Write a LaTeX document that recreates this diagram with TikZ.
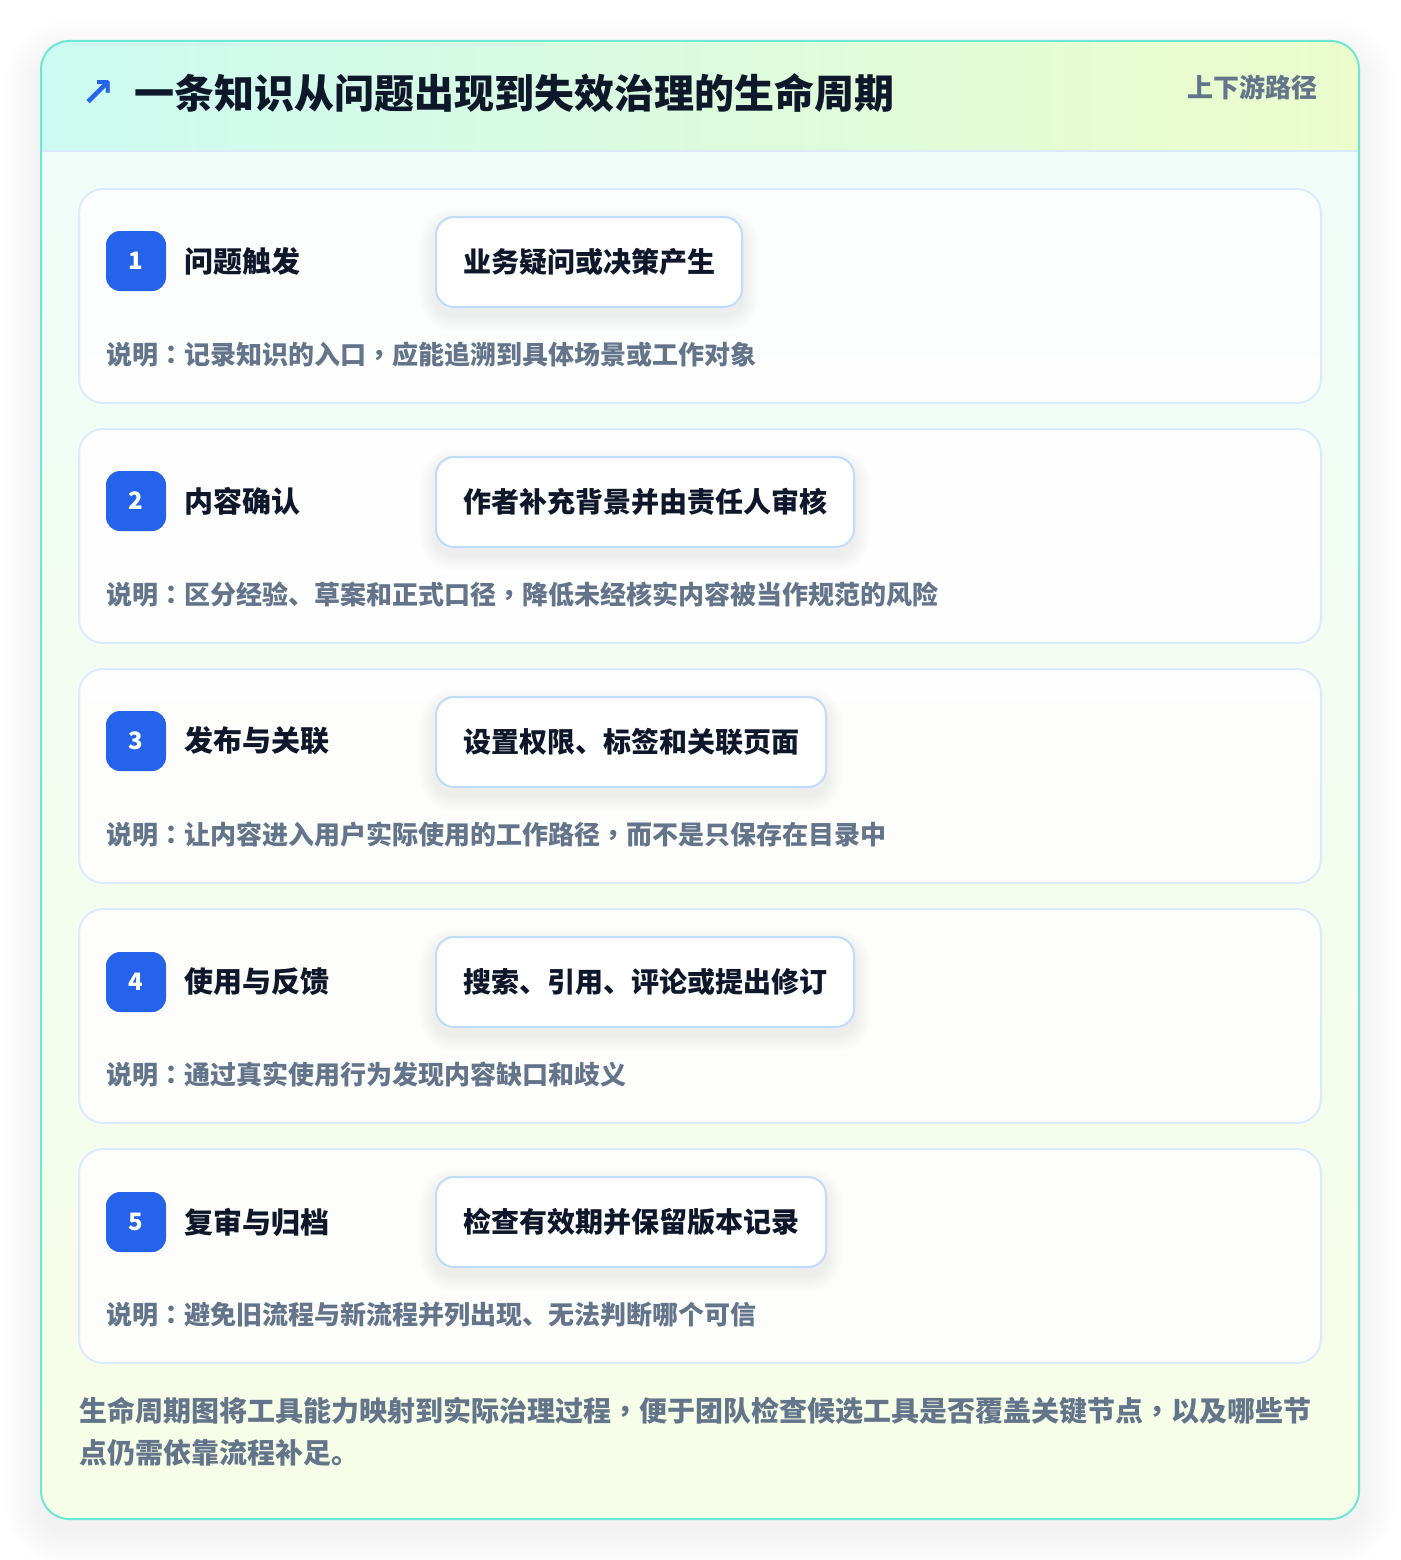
\documentclass[tikz,border=0pt]{standalone}
\usepackage{fontspec}
\setmainfont{Noto Sans CJK SC}
\newfontfamily\tcfont{Noto Sans CJK TC}
\newfontfamily\symfont{DejaVu Sans}

\definecolor{tealline}{HTML}{6EE7D4}
\definecolor{headleft}{HTML}{CCFBF1}
\definecolor{headright}{HTML}{ECFCCB}
\definecolor{bodytop}{HTML}{F0FDFA}
\definecolor{bodybottom}{HTML}{F7FEE7}
\definecolor{cardline}{HTML}{DBEAFE}
\definecolor{actionline}{HTML}{BFDBFE}
\definecolor{badgeblue}{HTML}{2563EB}
\definecolor{ink}{HTML}{0F172A}
\definecolor{slate}{HTML}{64748B}

% centred full-width punctuation
\newcommand{\cn}{{\tcfont ：}}
\newcommand{\cm}{{\tcfont ，}}

\pgfdeclarelayer{cards}
\pgfdeclarelayer{shadow}
\pgfsetlayers{cards,shadow,main}

% soft shadow under an action box
\newcommand{\boxshadow}[1]{%
  \begin{pgfonlayer}{shadow}
    \foreach \s in {1,3,...,15}
      \fill[black, opacity=0.007, rounded corners=18pt+\s pt]
        ([xshift=-\s pt, yshift=\s pt-8pt]#1.north west) rectangle ([xshift=\s pt, yshift=-\s pt-8pt]#1.south east);
  \end{pgfonlayer}}

\tikzset{
  stepcard/.style={draw=cardline, line width=2, rounded corners=24, fill=white, fill opacity=0.85},
  badge/.style={fill=badgeblue, rounded corners=14, minimum size=60, inner sep=0,
    text=white, font=\bfseries\fontsize{24}{28}\selectfont},
  steptitle/.style={anchor=west, inner sep=0, text=ink, font=\bfseries\fontsize{29}{34}\selectfont},
  actionbox/.style={anchor=west, draw=actionline, line width=2, rounded corners=18, fill=white,
    minimum height=90, inner xsep=27, text=ink, font=\bfseries\fontsize{28}{34}\selectfont},
  note/.style={anchor=west, inner sep=0, text=slate, font=\bfseries\fontsize{26}{32}\selectfont},
}

\begin{document}
\begin{tikzpicture}[x=1pt,y=-1pt]
  \useasboundingbox (0,0) rectangle (1400,1560);
  \begin{pgfonlayer}{cards}
    \fill[white] (0,0) rectangle (1400,1560);
    % outer card with its shadow
    \foreach \s in {2,5,...,38}
      \fill[black, opacity=0.005, rounded corners=28pt+\s pt]
        (41-\s,41-\s+16) rectangle (1359+\s,1519+\s+12);
    \shade[top color=bodytop, bottom color=bodybottom, rounded corners=28] (41,41) rectangle (1359,1519);
    \begin{scope}
      \clip[rounded corners=28] (41,41) rectangle (1359,1519);
      \shade[left color=headleft, right color=headright] (41,41) rectangle (1359,151);
    \end{scope}
    \draw[cardline, line width=2] (42,151) -- (1358,151);
    \draw[tealline, line width=2, rounded corners=28] (41,41) rectangle (1359,1519);

    % step cards
    \draw[stepcard] (79,189) rectangle (1321,403);
    \draw[stepcard] (79,429) rectangle (1321,643);
    \draw[stepcard] (79,669) rectangle (1321,883);
    \draw[stepcard] (79,909) rectangle (1321,1123);
    \draw[stepcard] (79,1149) rectangle (1321,1363);
  \end{pgfonlayer}

  % header
  \node[anchor=west, inner sep=0, text=badgeblue, font=\symfont\bfseries\fontsize{40}{46}\selectfont] (arrow) at (81,94) {↗};
  \node[anchor=west, inner sep=0, text=ink, font=\bfseries\fontsize{40}{46}\selectfont] (head) at (134,93) {一条知识从问题出现到失效治理的生命周期};
  \node[anchor=east, inner sep=0, text=slate, font=\bfseries\fontsize{26}{30}\selectfont] (tag) at (1318,87) {上下游路径};

  % step 1
  \node[badge] (badge1) at (136,261) {1};
  \node[steptitle] (title1) at (184,261) {问题触发};
  \node[actionbox] (act1) at (435,262) {业务疑问或决策产生};
  \boxshadow{act1}
  \node[note] (note1) at (106,355) {说明\cn 记录知识的入口\cm 应能追溯到具体场景或工作对象};

  % step 2
  \node[badge] (badge2) at (136,501) {2};
  \node[steptitle] (title2) at (184,501) {内容确认};
  \node[actionbox] (act2) at (435,502) {作者补充背景并由责任人审核};
  \boxshadow{act2}
  \node[note] (note2) at (106,595) {说明\cn 区分经验、草案和正式口径\cm 降低未经核实内容被当作规范的风险};

  % step 3
  \node[badge] (badge3) at (136,741) {3};
  \node[steptitle] (title3) at (184,741) {发布与关联};
  \node[actionbox] (act3) at (435,742) {设置权限、标签和关联页面};
  \boxshadow{act3}
  \node[note] (note3) at (106,835) {说明\cn 让内容进入用户实际使用的工作路径\cm 而不是只保存在目录中};

  % step 4
  \node[badge] (badge4) at (136,982) {4};
  \node[steptitle] (title4) at (184,982) {使用与反馈};
  \node[actionbox] (act4) at (435,982) {搜索、引用、评论或提出修订};
  \boxshadow{act4}
  \node[note] (note4) at (106,1075) {说明\cn 通过真实使用行为发现内容缺口和歧义};

  % step 5
  \node[badge] (badge5) at (136,1222) {5};
  \node[steptitle] (title5) at (184,1222) {复审与归档};
  \node[actionbox] (act5) at (435,1222) {检查有效期并保留版本记录};
  \boxshadow{act5}
  \node[note] (note5) at (106,1315) {说明\cn 避免旧流程与新流程并列出现、无法判断哪个可信};

  % footer
  \node[anchor=west, inner sep=0, align=left, text=slate, font=\bfseries\fontsize{28}{42}\selectfont] (foot) at (79,1432)
    {生命周期图将工具能力映射到实际治理过程\cm 便于团队检查候选工具是否覆盖关键节点\cm 以及哪些节\\点仍需依靠流程补足。};
\end{tikzpicture}
\end{document}
